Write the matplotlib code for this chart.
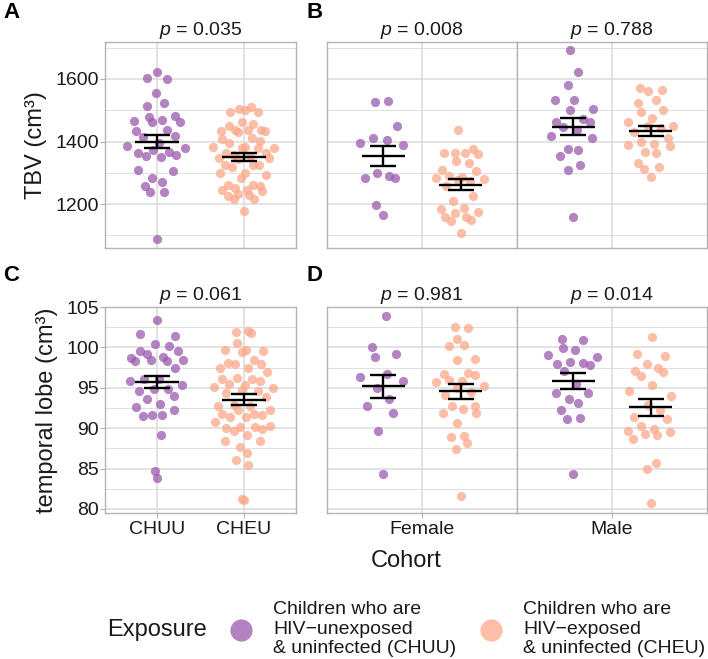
import numpy as np
import matplotlib
matplotlib.use("Agg")
import matplotlib.pyplot as plt
from matplotlib.ticker import FixedLocator
from matplotlib.lines import Line2D

plt.rcParams['font.family'] = ['Liberation Sans', 'DejaVu Sans']
plt.rcParams['mathtext.fontset'] = 'custom'
plt.rcParams['mathtext.it'] = 'Liberation Sans:italic'
plt.rcParams['mathtext.rm'] = 'Liberation Sans'

# ---------------- data ----------------
groups = ['CHUU', 'CHEU']
sexes = ['Female', 'Male']
legend_title = 'Exposure'
legend_labels = ['Children who are\nHIV\u2212unexposed\n& uninfected (CHUU)',
                 'Children who are\nHIV\u2212exposed\n& uninfected (CHEU)']

# TBV (cm3), panel A (by cohort)
tbv_chuu = [1623, 1602, 1599, 1554, 1524, 1513, 1482, 1477, 1469, 1467, 1464, 1463,
            1436, 1433, 1417, 1415, 1394, 1387, 1378, 1373, 1367, 1362, 1357, 1355,
            1350, 1308, 1305, 1284, 1271, 1259, 1240, 1240, 1090]
tbv_cheu = [1510, 1505, 1502, 1495, 1493, 1464, 1455, 1449, 1438, 1436, 1436, 1435,
            1435, 1429, 1411, 1407, 1403, 1395, 1383, 1382, 1381, 1381, 1379, 1364,
            1364, 1358, 1353, 1348, 1347, 1345, 1326, 1326, 1324, 1319, 1298, 1298,
            1294, 1284, 1261, 1260, 1259, 1252, 1246, 1246, 1242, 1233, 1230, 1225,
            1218, 1217, 1179]
# TBV panel B (by sex)
tbv_f_chuu = [1529, 1527, 1450, 1410, 1404, 1396, 1389, 1300, 1290, 1285, 1283, 1198, 1167]
tbv_f_cheu = [1436, 1377, 1365, 1364, 1362, 1361, 1339, 1330, 1310, 1307, 1291, 1286,
              1282, 1281, 1278, 1273, 1257, 1225, 1210, 1188, 1185, 1175, 1173, 1158,
              1158, 1150, 1145, 1108]
tbv_m_chuu = [1691, 1622, 1581, 1534, 1532, 1505, 1500, 1473, 1463, 1462, 1445, 1436,
              1418, 1412, 1377, 1374, 1353, 1326, 1308, 1158]
tbv_m_cheu = [1572, 1564, 1562, 1532, 1524, 1502, 1496, 1476, 1463, 1449, 1449, 1444,
              1432, 1412, 1399, 1393, 1389, 1387, 1366, 1363, 1330, 1318, 1312, 1286]

# temporal lobe (cm3), panel C
tl_chuu = [103.4, 101.6, 101.4, 100.4, 100.2, 99.5, 99.5, 99.2, 98.8, 98.7, 98.5, 98.4,
           98.3, 98.3, 97.5, 96.1, 96.1, 95.8, 95.3, 94.9, 94.8, 94.6, 94.0, 93.6, 93.0,
           92.6, 92.3, 91.6, 91.6, 91.5, 89.1, 84.7, 83.8]
tl_cheu = [102.0, 101.9, 101.8, 100.5, 99.7, 99.7, 99.6, 99.4, 98.4, 98.1, 98.0, 98.0,
           97.5, 97.5, 96.9, 96.2, 96.1, 96.1, 95.9, 95.5, 95.3, 95.1, 95.0, 94.7, 94.6,
           94.3, 93.9, 92.9, 92.7, 92.7, 92.3, 92.2, 91.8, 91.8, 91.6, 91.4, 91.4, 90.8,
           90.3, 90.1, 90.1, 90.0, 89.9, 89.6, 89.2, 88.4, 88.4, 87.7, 86.9, 86.1, 85.4,
           81.2, 81.1]
# temporal lobe panel D
tl_f_chuu = [103.9, 100.0, 99.2, 98.8, 96.7, 96.3, 95.9, 95.0, 93.6, 92.8, 91.9, 89.6, 84.3]
tl_f_cheu = [102.5, 102.4, 101.0, 100.3, 100.2, 98.6, 98.5, 96.8, 96.7, 96.6, 96.0, 95.9,
             95.7, 95.2, 95.0, 94.5, 94.1, 92.8, 92.7, 92.4, 91.9, 91.9, 90.6, 88.9, 89.0,
             88.2, 87.4, 81.6]
tl_m_chuu = [101.1, 100.9, 99.9, 99.7, 99.0, 98.8, 98.2, 98.1, 97.9, 97.8, 97.1, 95.5,
             94.4, 94.3, 93.6, 93.1, 92.2, 91.2, 91.1, 84.3]
tl_m_cheu = [101.3, 99.2, 98.9, 98.0, 97.4, 97.1, 97.0, 96.4, 95.3, 94.6, 94.0, 92.9,
             92.2, 91.4, 91.1, 90.3, 89.9, 89.6, 89.5, 89.3, 89.1, 88.7, 85.7, 84.9, 80.7]

# mean +/- SE  [CHUU, CHEU]
tbv_mean_a, tbv_se_a = [1399, 1350], [21, 12]
tbv_mean_f, tbv_se_f = [1355, 1262], [32, 17]
tbv_mean_m, tbv_se_m = [1447, 1434], [27, 17]
tl_mean_c, tl_se_c = [95.74, 93.52], [0.76, 0.70]
tl_mean_f, tl_se_f = [95.20, 94.59], [1.42, 0.93]
tl_mean_m, tl_se_m = [95.90, 92.57], [0.99, 1.03]

p_a = '0.035'
p_b = ['0.008', '0.788']
p_c = '0.061'
p_d = ['0.981', '0.014']

# ---------------- style ----------------
COLORS = ['#9A5BAD', '#FBA88A']
ALPHA = 0.75
GRID = '#DBDBDB'
BORDER = '#B3B3B3'
TXT = '#1a1a1a'
W, H = 708, 659


def vdc(n):
    out = []
    for i in range(1, n + 1):
        v, denom, k = 0.0, 1.0, i
        while k:
            denom *= 2
            k, r = divmod(k, 2)
            v += r / denom
        out.append(v)
    return np.array(out)


def quasi_offsets(y, width):
    y = np.asarray(y, float)
    n = len(y)
    sd = y.std(ddof=1)
    q75, q25 = np.percentile(y, [75, 25])
    bw = 0.9 * min(sd, (q75 - q25) / 1.34) * n ** -0.2
    d = np.exp(-0.5 * ((y[:, None] - y[None, :]) / bw) ** 2).sum(1)
    grid = np.linspace(y.min() - 3 * bw, y.max() + 3 * bw, 512)
    dg = np.exp(-0.5 * ((grid[:, None] - y[None, :]) / bw) ** 2).sum(1)
    d = d / dg.max()
    ranks = np.argsort(np.argsort(y, kind='stable'), kind='stable')
    off = vdc(n)[ranks]
    return (off - 0.5) * 2 * width * d


def points(ax, xc, y, color, width):
    x = xc + quasi_offsets(y, width)
    ax.scatter(x, y, s=44, color=color, alpha=ALPHA, linewidths=0, zorder=3)


def summary(ax, xc, mean, se, half, cap):
    kw = dict(color='black', lw=1.7, zorder=4, solid_capstyle='butt')
    ax.plot([xc - half, xc + half], [mean, mean], **kw)
    ax.plot([xc, xc], [mean - se, mean + se], **kw)
    ax.plot([xc - cap, xc + cap], [mean + se] * 2, **kw)
    ax.plot([xc - cap, xc + cap], [mean - se] * 2, **kw)


def rect(x0, x1, yt, yb):
    return [x0 / W, 1 - yb / H, (x1 - x0) / W, (yb - yt) / H]


def style(ax, ylim, major, minor, xlim, xticks, xlabels, show_y, show_x):
    ax.set_xlim(xlim)
    ax.set_ylim(ylim)
    ax.yaxis.set_major_locator(FixedLocator(major))
    ax.yaxis.set_minor_locator(FixedLocator(minor))
    ax.set_xticks(xticks)
    ax.set_xticklabels(xlabels)
    ax.grid(True, which='major', color=GRID, lw=1.1)
    ax.grid(True, which='minor', axis='y', color=GRID, lw=0.6)
    ax.set_axisbelow(True)
    for s in ax.spines.values():
        s.set_color(BORDER)
        s.set_linewidth(1.0)
    ax.tick_params(which='minor', length=0)
    ax.tick_params(axis='y', which='major', color=BORDER, length=3.5, width=0.8,
                   labelsize=14, labelcolor=TXT, pad=1, left=show_y, labelleft=show_y)
    ax.tick_params(axis='x', which='major', color=BORDER, length=3.5, width=0.8,
                   labelsize=14, labelcolor=TXT, pad=2, bottom=show_x, labelbottom=show_x)


def ptitle(ax, p):
    ax.annotate(r'$p$ = ' + p, xy=(0.5, 1), xycoords='axes fraction', xytext=(0, 5),
                textcoords='offset points', ha='center', va='baseline', fontsize=14, color=TXT)


fig = plt.figure(figsize=(W / 100, H / 100), dpi=100)

rows = [
    dict(yt=42, yb=248, ylim=(1060, 1718), major=[1200, 1400, 1600], minor=[1100, 1300, 1500, 1700],
         single=(tbv_chuu, tbv_cheu, tbv_mean_a, tbv_se_a, p_a),
         facets=[(tbv_f_chuu, tbv_f_cheu, tbv_mean_f, tbv_se_f, p_b[0]),
                 (tbv_m_chuu, tbv_m_cheu, tbv_mean_m, tbv_se_m, p_b[1])],
         ylabel='TBV (cm\u00b3)', show_x=False, letters=('A', 'B'), ly=18),
    dict(yt=307, yb=513, ylim=(79.5, 105.0), major=[80, 85, 90, 95, 100, 105],
         minor=[82.5, 87.5, 92.5, 97.5, 102.5],
         single=(tl_chuu, tl_cheu, tl_mean_c, tl_se_c, p_c),
         facets=[(tl_f_chuu, tl_f_cheu, tl_mean_f, tl_se_f, p_d[0]),
                 (tl_m_chuu, tl_m_cheu, tl_mean_m, tl_se_m, p_d[1])],
         ylabel='temporal lobe (cm\u00b3)', show_x=True, letters=('C', 'D'), ly=281),
]

for r in rows:
    # single panel
    ax = fig.add_axes(rect(105, 296, r['yt'], r['yb']))
    style(ax, r['ylim'], r['major'], r['minor'], (0.4, 2.6), [1, 2], groups, True, r['show_x'])
    ych, yce, mn, se, p = r['single']
    for i, (yy, col) in enumerate(zip([ych, yce], COLORS)):
        points(ax, i + 1, yy, col, 0.37)
        summary(ax, i + 1, mn[i], se[i], 0.25, 0.15)
    ptitle(ax, p)
    ax.set_ylabel(r['ylabel'], fontsize=17, color=TXT, labelpad=6)

    # facet panels
    for k, (x0, x1) in enumerate([(327, 517), (517, 707)]):
        axf = fig.add_axes(rect(x0, x1, r['yt'], r['yb']))
        style(axf, r['ylim'], r['major'], r['minor'], (0.4, 1.6), [1], [sexes[k]], False, r['show_x'])
        ych, yce, mn, se, p = r['facets'][k]
        for i, (yy, col) in enumerate(zip([ych, yce], COLORS)):
            xc = 1 + (i - 0.5) * 0.49
            points(axf, xc, yy, col, 0.17)
            summary(axf, xc, mn[i], se[i], 0.137, 0.083)
        ptitle(axf, p)

    fig.text(3 / W, 1 - r['ly'] / H, r['letters'][0], fontsize=16, fontweight='bold', va='baseline')
    fig.text(307 / W, 1 - r['ly'] / H, r['letters'][1], fontsize=16, fontweight='bold', va='baseline')

fig.text(406 / W, 1 - 567 / H, 'Cohort', ha='center', va='baseline', fontsize=17, color=TXT)

# legend (drawn manually)
fig.text(107 / W, 1 - 636 / H, legend_title, ha='left', va='baseline', fontsize=17, color=TXT)
for cx, tx, col, lab in [(241, 273, COLORS[0], legend_labels[0]), (491, 523, COLORS[1], legend_labels[1])]:
    fig.add_artist(Line2D([cx / W], [1 - 630 / H], marker='o', ls='', ms=16, color=col,
                          alpha=ALPHA, mew=0, transform=fig.transFigure))
    fig.text(tx / W, 1 - 629 / H, lab, ha='left', va='center', fontsize=14, color=TXT, linespacing=1.2)

fig.savefig('out.png', dpi=100)
